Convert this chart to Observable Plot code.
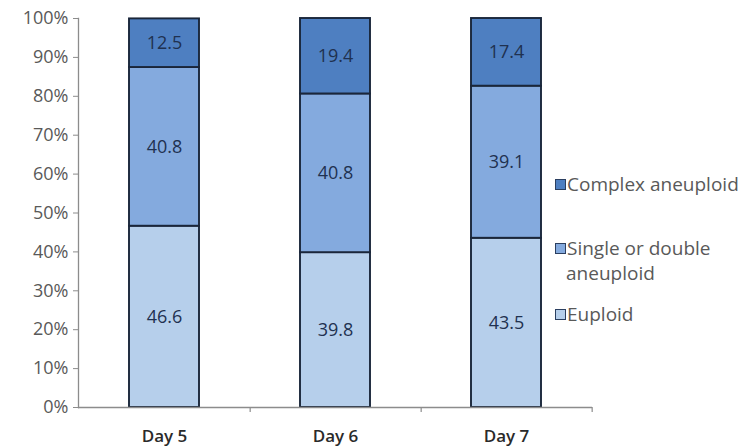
<!DOCTYPE html>
<html>
<head>
<meta charset="utf-8">
<script src="https://cdn.jsdelivr.net/npm/d3@7"></script>
<script src="https://cdn.jsdelivr.net/npm/@observablehq/plot@0.6"></script>
<style>
  body { margin: 0; background: #fff; }
  #wrap { position: relative; width: 755px; height: 448px; font-family: "Open Sans", sans-serif; }
  #legend { position: absolute; left: 555px; top: 0; color: #595959; font-size: 19px; line-height: 25px; }
  .item { position: absolute; white-space: nowrap; }
  .sw { display: inline-block; width: 9px; height: 9px; border: 1px solid #2b3f60; margin-right: 1px; vertical-align: 1px; }
</style>
</head>
<body>
<div id="wrap"></div>
<script>
const days = ["Day 5", "Day 6", "Day 7"];
const types = ["Euploid", "Single or double aneuploid", "Complex aneuploid"];
const euploid = [46.6, 39.8, 43.5];
const singleDouble = [40.8, 40.8, 39.1];
const complexAneu = [12.5, 19.4, 17.4];
const colors = ["#b6cfeb", "#84aade", "#4e7fc1"];
const yTicks = [0, 0.1, 0.2, 0.3, 0.4, 0.5, 0.6, 0.7, 0.8, 0.9, 1.0];

const series = [euploid, singleDouble, complexAneu];
const data = [];
days.forEach((d, i) => types.forEach((t, j) => data.push({day: d, type: t, value: series[j][i]})));

const W = 755, H = 448, mL = 78, mR = 163, mT = 18, mB = 41;
const step = (W - mL - mR) / days.length;
const tickLen = 5 / (H - mT - mB);

const chart = Plot.plot({
  width: W, height: H,
  marginLeft: mL, marginRight: mR, marginTop: mT, marginBottom: mB,
  style: {fontFamily: "Open Sans, sans-serif", background: "#fff"},
  x: {domain: days, paddingInner: 0.59, paddingOuter: 0.295, label: null},
  y: {domain: [0, 1], label: null},
  color: {domain: types, range: colors},
  marks: [
    Plot.barY(data, {x: "day", y: d => d.value / 100, fill: "type", order: types, stroke: "#1a263a", strokeWidth: 1.9}),
    Plot.text(data, Plot.stackY({x: "day", y: d => d.value / 100, z: "type", order: types, text: d => d.value.toFixed(1), fill: "#1f3150", fontSize: 18})),
    Plot.ruleY([0], {stroke: "#8c8c8c", strokeWidth: 1.3}),
    Plot.frame({anchor: "left", stroke: "#8c8c8c", strokeWidth: 1.3}),
    Plot.ruleX(days, {x: d => d, dx: step / 2, y1: 0, y2: -tickLen, stroke: "#8c8c8c", strokeWidth: 1.2}),
    Plot.axisY({ticks: yTicks, tickFormat: d3.format(".0%"), tickSize: 5, tickPadding: 5, stroke: "#8c8c8c", fill: "#595959", fontSize: 18, label: null}),
    Plot.axisX({tickSize: 0, tickPadding: 22, fontSize: 17, fontWeight: "600", fill: "#2a2a2a", label: null})
  ]
});
const wrap = document.getElementById("wrap");
wrap.appendChild(chart);

const legend = document.createElement("div");
legend.id = "legend";
const items = [
  {label: "Complex aneuploid", color: colors[2], top: 172},
  {label: "Single or double<br>aneuploid", color: colors[1], top: 236},
  {label: "Euploid", color: colors[0], top: 302}
];
items.forEach(it => {
  const div = document.createElement("div");
  div.className = "item";
  div.style.top = it.top + "px";
  const parts = it.label.split("<br>");
  div.innerHTML = `<span class="sw" style="background:${it.color}"></span>${parts[0]}` + (parts[1] ? `<br><span style="padding-left:11px">${parts[1]}</span>` : "");
  legend.appendChild(div);
});
wrap.appendChild(legend);
</script>
</body>
</html>
